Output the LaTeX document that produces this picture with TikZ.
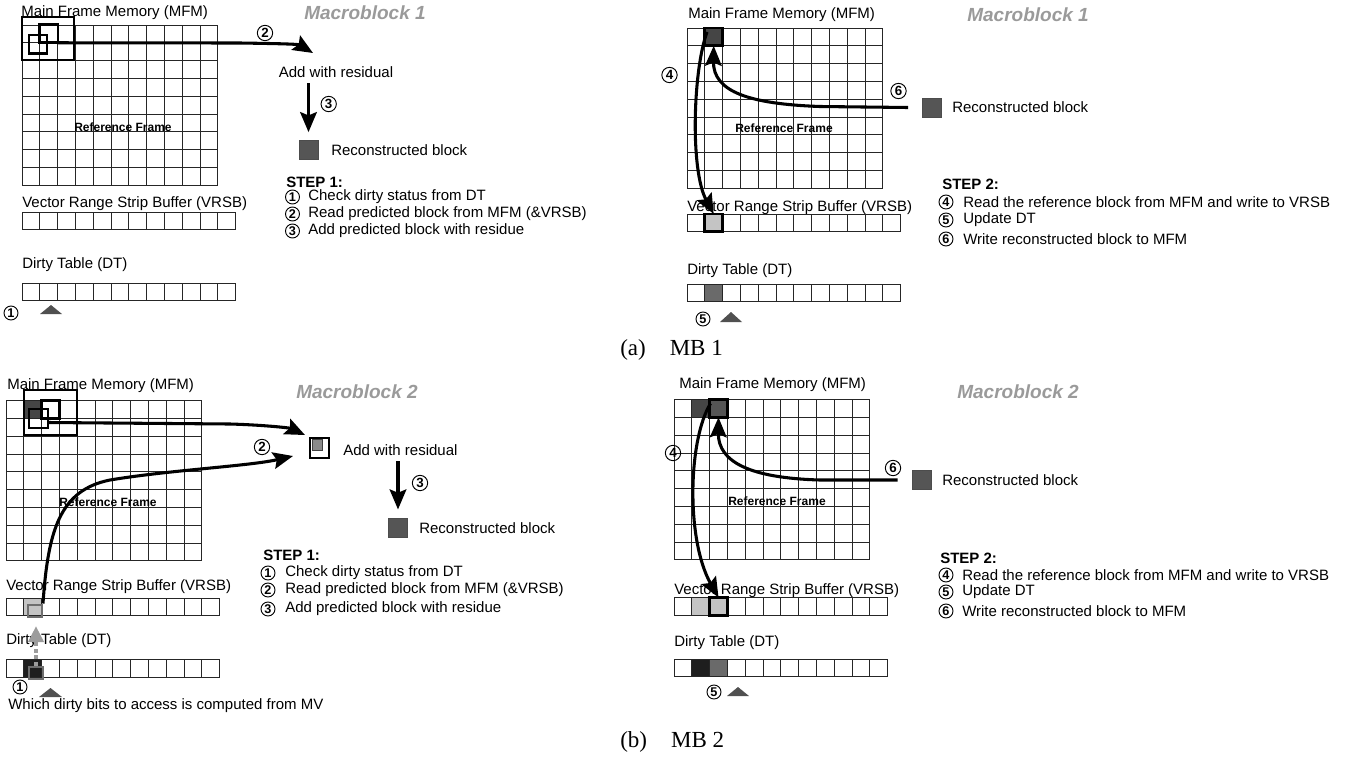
\documentclass[tikz,border=0pt]{standalone}
\usepackage{fontspec}
\setmainfont{Liberation Sans}
\newfontfamily\capfont{Liberation Serif}
\usetikzlibrary{arrows.meta,calc}
\definecolor{titlegray}{HTML}{9A9A9A}
\definecolor{blkdark}{HTML}{454545}
\definecolor{recgray}{HTML}{555555}
\definecolor{lightcell}{HTML}{C4C4C4}
\definecolor{dtblack}{HTML}{1E1E1E}
\definecolor{dtgray}{HTML}{6A6A6A}
\definecolor{ptrgray}{HTML}{505050}
\definecolor{dashgray}{HTML}{9C9C9C}
\definecolor{boxgray}{HTML}{6E6E6E}
\definecolor{iconmid}{HTML}{8A8A8A}
\newcommand\mgrid[4]{%
  \foreach \i in {0,...,#3}{\draw[gridline] ({#1+\i*17.8},{#2}) -- ({#1+\i*17.8},{#2+#4*17.8});}%
  \foreach \j in {0,...,#4}{\draw[gridline] ({#1},{#2+\j*17.8}) -- ({#1+#3*17.8},{#2+\j*17.8});}%
}
\begin{document}
\begin{tikzpicture}[x=0.75pt,y=-0.75pt,
  lbl/.style={anchor=west, inner sep=0pt, font=\fontsize{11.25}{13}\selectfont},
  rflbl/.style={inner sep=0pt, font=\fontsize{9}{10}\selectfont\bfseries},
  ttl/.style={inner sep=0pt, text=titlegray, font=\fontsize{14.25}{16}\selectfont\bfseries\itshape},
  stephd/.style={anchor=west, inner sep=0pt, font=\fontsize{11.25}{13}\selectfont\bfseries},
  stepnum/.style={circle, draw, line width=0.7pt, inner sep=0pt, minimum size=10.5pt, font=\fontsize{9.5}{9.5}\selectfont\bfseries},
  flownum/.style={circle, draw, line width=0.7pt, inner sep=0pt, minimum size=11.5pt, font=\fontsize{10}{10}\selectfont\bfseries},
  gridline/.style={line width=0.6pt, draw=black!85},
  cellfill/.style={draw=black!85, line width=0.6pt, minimum size=13.35pt, inner sep=0pt, outer sep=0pt},
  hicell/.style={cellfill, line width=2pt, draw=black},
  winbox/.style={draw, line width=0.8pt, inner sep=0pt},
  smallbox/.style={draw=boxgray, line width=1.5pt, minimum width=10.5pt, minimum height=9pt, inner sep=0pt},
  recblk/.style={draw=black!70, fill=recgray, line width=0.6pt, minimum size=14.25pt, inner sep=0pt},
  conn/.style={line width=2.3pt, -{Stealth[length=15pt,width=12.5pt,inset=2.5pt]}},
  captxt/.style={anchor=west, inner sep=0pt, font=\capfont\fontsize{17.25}{19}\selectfont}
]
\useasboundingbox (0,0) rectangle (1345,761);

% ================= (a) left =================
\node[lbl] (alMFMl) at (21,13) {Main Frame Memory (MFM)};
\mgrid{22}{25}{11}{9}
\node[rflbl] (alRF) at (123,127) {Reference Frame};
\node[winbox, minimum width=39pt, minimum height=32.25pt] (alwin) at (48,38.5) {};
\node[hicell, minimum size=13.9pt] (alsqA) at (48.8,33.5) {};
\node[hicell, minimum size=13.6pt] (alsqB) at (38,44.2) {};
\node[ttl] (alttl) at (365,13) {Macroblock 1};
\coordinate (altip) at (313,53);
\draw[conn] (alsqA.south east) -- (240,43) .. controls (272,43.5) and (298,44) .. (altip);
\node[flownum] (aln2) at (265,33) {2};
\node[lbl, anchor=center] (aladd) at (336,72) {Add with residual};
\node[recblk] (alrec) at (308.5,150) {};
\draw[conn, shorten <=4pt, shorten >=6pt] (alrec.north |- aladd.south) -- (alrec.north);
\node[flownum] (aln3) at (328.7,104) {3};
\node[lbl] (alrect) at (331,150) {Reconstructed block};
\node[stephd] (alstep) at (286,182) {STEP 1:};
\node[stepnum] (als1) at (292.5,197) {1};
\node[lbl] (als1t) at (308,197) {Check dirty status from DT};
\node[stepnum] (als2) at (292.5,214) {2};
\node[lbl] (als2t) at (308,214) {Read predicted block from MFM (\&VRSB)};
\node[stepnum] (als3) at (292.5,231) {3};
\node[lbl] (als3t) at (308,231) {Add predicted block with residue};
\node[lbl] (alVRSBl) at (22,203.5) {Vector Range Strip Buffer (VRSB)};
\mgrid{22}{212}{12}{1}
\node[lbl] (alDTl) at (22,265) {Dirty Table (DT)};
\mgrid{22}{283}{12}{1}
\node[stepnum] (aln1) at (11,313) {1};
\fill[ptrgray] (40,314) -- (62,314) -- (51,305) -- cycle;

% ================= (a) right =================
\node[lbl] (arMFMl) at (688,15) {Main Frame Memory (MFM)};
\mgrid{687}{28}{11}{9}
\node[hicell, fill=blkdark] (armfm) at (713.7,36.9) {};
\node[rflbl] (arRF) at (784,128) {Reference Frame};
\node[lbl] (arVRSBl) at (687,208) {Vector Range Strip Buffer (VRSB)};
\mgrid{687}{214}{12}{1}
\node[hicell, fill=lightcell] (arvrsb) at (713.7,222.9) {};
\node[lbl] (arDTl) at (687,271) {Dirty Table (DT)};
\mgrid{687}{284}{12}{1}
\node[cellfill, fill=dtgray] (ardt) at (713.7,292.9) {};
\node[stepnum] (arn5) at (703,319) {5};
\fill[ptrgray] (720,322) -- (742,322) -- (731,312) -- cycle;
\node[recblk] (arrec) at (932,107.5) {};
\node[lbl] (arrect) at (952,107.5) {Reconstructed block};
\node[ttl] (arttl) at (1028,15) {Macroblock 1};
\draw[conn] ([xshift=-5pt,yshift=-3pt]armfm.north) .. controls (693,70) and (690,170) .. (arvrsb.north);
\draw[conn] ([xshift=-10.5pt]arrec.west) -- (820,106.5) .. controls (750,104) and (713,92) .. (armfm.south);
\node[flownum] (arn4) at (669.5,75) {4};
\node[flownum] (arn6) at (898.5,91) {6};
\node[stephd] (arstep) at (942,184) {STEP 2:};
\node[stepnum] (ars4) at (946,202) {4};
\node[lbl] (ars4t) at (963,202) {Read the reference block from MFM and write to VRSB};
\node[stepnum] (ars5) at (946,220) {5};
\node[lbl] (ars5t) at (963,220) {Update DT};
\node[stepnum] (ars6) at (946,239) {6};
\node[lbl] (ars6t) at (963,239) {Write reconstructed block to MFM};

% ================= (b) left =================
\node[lbl] (blMFMl) at (7,386) {Main Frame Memory (MFM)};
\mgrid{6}{400.5}{11}{9}
\node[cellfill, fill=blkdark] (blmfm) at (32.7,409.4) {};
\node[rflbl] (blRF) at (108,502) {Reference Frame};
\node[winbox, minimum width=39.75pt, minimum height=33.75pt] (blwin) at (50.5,412.5) {};
\node[hicell] (blsqA) at (50.5,409.4) {};
\node[hicell, line width=1.6pt, minimum size=14.25pt] (blsqB) at (38.5,418.5) {};
\node[ttl] (blttl) at (357,392) {Macroblock 2};
\node[lbl] (blVRSBl) at (6,587) {Vector Range Strip Buffer (VRSB)};
\mgrid{6}{598}{12}{1}
\node[cellfill, fill=lightcell] (blvrsb) at (32.7,606.9) {};
\node[smallbox] (blvsq) at (35,610.5) {};
\node[lbl] (blDTl) at (6,641) {Dirty Table (DT)};
\mgrid{6}{659.5}{12}{1}
\node[cellfill, fill=dtblack] (bldt) at (32.7,668.4) {};
\node[smallbox] (bldsq) at (36,673) {};
\draw[dashgray, line width=2.4pt, dash pattern=on 3pt off 2pt, -{Triangle[length=12pt,width=11.5pt]}, shorten >=6.5pt] (bldsq.north) -- (bldsq.north |- blvsq.south);
\node[stepnum] (bln1) at (20,687) {1};
\fill[ptrgray] (39,697) -- (62,697) -- (50.5,688) -- cycle;
\node[lbl] (blnote) at (8,706) {Which dirty bits to access is computed from MV};
\node[draw, line width=1.6pt, minimum size=14.5pt, inner sep=0pt] (blicon) at (319.5,448) {};
\node[draw=black!75, fill=iconmid, line width=0.8pt, minimum size=8pt, inner sep=0pt] (blicin) at (317.5,445) {};
\node[lbl] (bladd) at (343,450) {Add with residual};
\coordinate (blAtip) at (305,435);
\coordinate (blBtip) at (293,456);
\draw[conn] ([yshift=-3pt]blsqB.east) -- (230,424) .. controls (265,425) and (290,428) .. (blAtip);
\draw[conn] (blvsq.north east) .. controls (48,530) and (60,490) .. (110,480) .. controls (170,470) and (250,466) .. (blBtip);
\node[flownum] (bln2) at (262,447) {2};
\node[recblk] (blrec) at (398,528) {};
\draw[conn, shorten <=4pt, shorten >=6.5pt] (blrec.north |- bladd.south) -- (blrec.north);
\node[flownum] (bln3) at (420,483) {3};
\node[lbl] (blrect) at (419,528) {Reconstructed block};
\node[stephd] (blstep) at (263,555) {STEP 1:};
\node[stepnum] (bls1) at (268,573) {1};
\node[lbl] (bls1t) at (285,573) {Check dirty status from DT};
\node[stepnum] (bls2) at (268,590) {2};
\node[lbl] (bls2t) at (285,590) {Read predicted block from MFM (\&VRSB)};
\node[stepnum] (bls3) at (268,609) {3};
\node[lbl] (bls3t) at (285,609) {Add predicted block with residue};

% ================= (b) right =================
\node[lbl] (brMFMl) at (679,385) {Main Frame Memory (MFM)};
\mgrid{674}{399.5}{11}{9}
\node[cellfill, fill=blkdark] (brmfm1) at (700.7,408.4) {};
\node[hicell, fill=recgray] (brmfm) at (718.5,408.4) {};
\node[rflbl] (brRF) at (777,501) {Reference Frame};
\node[lbl] (brVRSBl) at (674,591) {Vector Range Strip Buffer (VRSB)};
\mgrid{674}{597.5}{12}{1}
\node[cellfill, fill=lightcell] (brvrsb1) at (700.7,606.4) {};
\node[hicell, fill=lightcell] (brvrsb) at (718.5,606.4) {};
\node[lbl] (brDTl) at (674,643) {Dirty Table (DT)};
\mgrid{674}{659}{12}{1}
\node[cellfill, fill=dtblack] (brdt1) at (700.7,667.9) {};
\node[cellfill, fill=dtgray] (brdt2) at (718.5,667.9) {};
\node[stepnum] (brn5) at (714,692) {5};
\fill[ptrgray] (727,696) -- (749,696) -- (738,687) -- cycle;
\node[recblk] (brrec) at (921.5,480) {};
\node[lbl] (brrect) at (942,480) {Reconstructed block};
\node[ttl] (brttl) at (1018,392) {Macroblock 2};
\draw[conn] ([xshift=-6pt,yshift=-3pt]brmfm.north) .. controls (688,440) and (686,540) .. (brvrsb.north);
\draw[conn] ([xshift=-10.5pt]brrec.west) -- (820,480) .. controls (750,478) and (718,462) .. (brmfm.south);
\node[flownum] (brn4) at (673,453) {4};
\node[flownum] (brn6) at (893,468) {6};
\node[stephd] (brstep) at (940,558) {STEP 2:};
\node[stepnum] (brs4) at (946,575) {4};
\node[lbl] (brs4t) at (962,575) {Read the reference block from MFM and write to VRSB};
\node[stepnum] (brs5) at (946,592) {5};
\node[lbl] (brs5t) at (962,592) {Update DT};
\node[stepnum] (brs6) at (946,611) {6};
\node[lbl] (brs6t) at (962,611) {Write reconstructed block to MFM};

% ================= captions =================
\node[captxt] (capa) at (620,350) {(a)\hspace{18pt}MB 1};
\node[captxt] (capb) at (620,742) {(b)\hspace{18pt}MB 2};
\end{tikzpicture}
\end{document}
